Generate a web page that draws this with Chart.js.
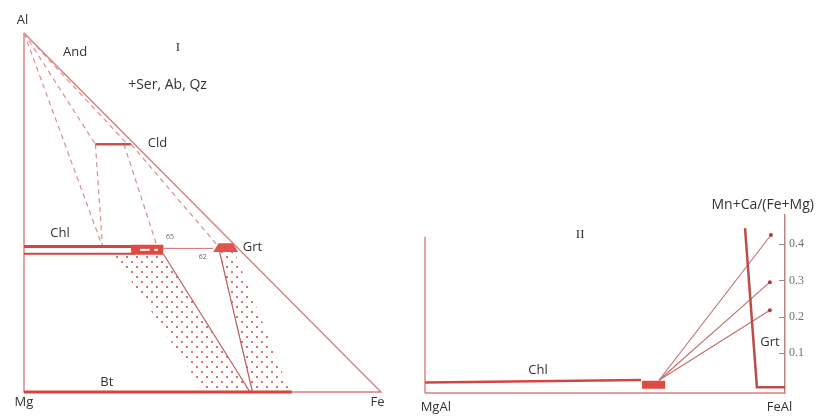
<!DOCTYPE html>
<html><head><meta charset="utf-8">
<script src="https://cdn.jsdelivr.net/npm/chart.js@4"></script>
<style>
html,body{margin:0;padding:0;background:#fff;width:824px;height:417px;overflow:hidden}
#l{position:absolute;left:0;top:0;width:410px;height:417px}
#r{position:absolute;left:410px;top:0;width:414px;height:417px}
</style></head><body>
<div id="l"><canvas id="cl"></canvas></div>
<div id="r"><canvas id="cr"></canvas></div>
<script>
// ===== Panel I : projection, x = Fe fraction, y = Al fraction =====
const triangleOutline = [[0,1],[0,0],[1,0],[0,1]];
const btBar        = [[0,0],[0.75,0]];
const cldBar       = [[0.20,0.69],[0.30,0.69]];
const chlTop       = [[0,0.405],[0.39,0.405]];
const chlBottom    = [[0,0.385],[0.31,0.385]];
const chlBlob      = [[0.30,0.382],[0.30,0.41],[0.39,0.41],[0.39,0.382]];
const chlBlobInner = [[[0.325,0.396],[0.352,0.396]],[[0.365,0.396],[0.375,0.396]]];
const grtBlob      = [[0.53,0.39],[0.545,0.414],[0.585,0.414],[0.60,0.39]];
const chlGrtTie    = [[0.39,0.40],[0.53,0.40]];
const dashedTies = [
  [[0,1],[0.22,0.405]],
  [[0,1],[0.20,0.69]],
  [[0.20,0.69],[0.22,0.405]],
  [[0,1],[0.29,0.69]],
  [[0.28,0.69],[0.373,0.405]],
  [[0.30,0.69],[0.545,0.405]]
];
const solidTies = [
  [[0.39,0.385],[0.633,0]],
  [[0.548,0.39],[0.64,0]]
];
const stippleBands = [
  [[0.25,0.385],[0.39,0.385],[0.633,0],[0.505,0]],
  [[0.548,0.39],[0.59,0.39],[0.745,0],[0.64,0]]
];
const leftLabels = [
  ['Al',-0.004,1.036],['And',0.143,0.947],['I',0.431,0.958],['+Ser, Ab, Qz',0.402,0.855],
  ['Cld',0.374,0.692],['Chl',0.101,0.443],['65',0.409,0.432],['62',0.501,0.376],
  ['Grt',0.64,0.404],['Bt',0.232,0.028],['Mg',0.0,-0.03],['Fe',0.99,-0.03]
];

// ===== Panel II : x = Fe/(Fe+Mg) from MgAl to FeAl, y = Mn+Ca/(Fe+Mg) =====
const frameLeft   = [[0,-0.01],[0,0.42]];
const frameBottom = [[0,-0.01],[1,-0.01]];
const chlLine2    = [[0,0.019],[0.60,0.026]];
const chlBlob2    = [[0.603,0.002],[0.603,0.024],[0.667,0.024],[0.667,0.002]];
const grtLine2    = [[0.889,0.444],[0.922,0.006],[1,0.006]];
const tieOrigin   = [0.65,0.025];
const grtX        = [0.961,0.958,0.958];
const grtRatio    = [0.425,0.295,0.218];
const tickValues  = [0.1,0.2,0.3,0.4];
const tickLabels  = ['0.1','0.2','0.3','0.4'];
const rightLabels = [
  ['Mn+Ca/(Fe+Mg)',0.938,0.508],['II',0.431,0.425],['Chl',0.314,0.053],
  ['Grt',0.958,0.130],['MgAl',0.03,-0.05],['FeAl',0.985,-0.048]
];

// ---------- helpers ----------
const pts = a => a.map(([x,y]) => ({x,y}));
function seg(a, color, width, dash){
  return {data: pts(a), showLine:true, borderColor:color, borderWidth:width, borderDash:dash||[],
          pointRadius:0, fill:false, tension:0, clip:false, borderCapStyle:'butt'};
}
function poly(a, fillColor, border, bw){
  return {data: pts(a.concat([a[0]])), showLine:true, borderColor:border||fillColor, borderWidth:bw||0,
          backgroundColor:fillColor, fill:'shape', pointRadius:0, tension:0, clip:false};
}
function ordered(list){ return list.map((d,i)=>Object.assign(d,{order:list.length-i})); }

function stipple(){
  const c = document.createElement('canvas'); c.width = 10; c.height = 10;
  const g = c.getContext('2d'); g.fillStyle = 'rgba(195,80,80,0.8)';
  g.fillRect(1,1,2,2); g.fillRect(6,6,2,2);
  return g.createPattern(c,'repeat');
}
const pattern = stipple();

const labelPlugin = labels => ({
  id:'labels',
  afterDatasetsDraw(chart){
    const {ctx, scales:{x,y}} = chart;
    ctx.save(); ctx.textAlign='center'; ctx.textBaseline='middle';
    for (const [t,vx,vy] of labels){
      const small = /^\d+$/.test(t);
      const serif = (t==='I'||t==='II');
      ctx.font = small ? '7px "Open Sans"' : serif ? '13px "Liberation Serif"' :
                 (t.length>4 ? '14px "Open Sans"' : '13px "Open Sans"');
      ctx.fillStyle = small ? '#666' : '#333';
      ctx.fillText(t, x.getPixelForValue(vx), y.getPixelForValue(vy));
    }
    ctx.restore();
  }
});

const edge = '#d97c7c', strong = '#d8433e', dashC = '#dc8e8e', tie = '#bd5d5d';
const baseOpts = {
  responsive:true, maintainAspectRatio:false, animation:false, events:[],
  plugins:{legend:{display:false}, tooltip:{enabled:false}}
};

// ---------- Left chart ----------
const leftSets = ordered([
  ...stippleBands.map(b => poly(b, pattern)),
  seg(triangleOutline, edge, 1.4),
  ...dashedTies.map(t => seg(t, dashC, 1.2, [5,4])),
  ...solidTies.map(t => seg(t, tie, 1.2)),
  seg(chlGrtTie, '#c97474', 1),
  seg(btBar, strong, 3),
  seg(cldBar, '#c9504c', 2.5),
  seg(chlTop, strong, 3),
  seg(chlBottom, strong, 2),
  poly(chlBlob, '#de4b45'),
  ...chlBlobInner.map(s => seg(s, '#ffffff', 2)),
  poly(grtBlob, '#e0524c')
]);
new Chart(document.getElementById('cl'), {
  type:'scatter',
  data:{datasets:leftSets},
  options:Object.assign({}, baseOpts, {
    layout:{padding:{left:24,right:29,top:33,bottom:25}},
    scales:{x:{type:'linear',min:0,max:1,display:false}, y:{type:'linear',min:0,max:1,display:false}}
  }),
  plugins:[labelPlugin(leftLabels)]
});

// ---------- Right chart ----------
const rightSets = ordered([
  seg(frameLeft, edge, 1.4),
  seg(frameBottom, edge, 1.4),
  seg(chlLine2, strong, 2.5),
  ...grtX.map((gx,i) => seg([tieOrigin,[gx,grtRatio[i]]], '#c46a6a', 1.1)),
  seg(grtLine2, '#b94e4b', 2.5),
  poly(chlBlob2, '#de4b45'),
  {data: grtX.map((gx,i)=>({x:gx,y:grtRatio[i]})), pointRadius:2, pointBackgroundColor:'#b23c3c',
   pointBorderWidth:0, showLine:false, clip:false}
]);
new Chart(document.getElementById('cr'), {
  type:'scatter',
  data:{datasets:rightSets},
  options:Object.assign({}, baseOpts, {
    layout:{padding:{left:15,right:0,top:215,bottom:24}},
    scales:{
      x:{type:'linear',min:0,max:1,display:false},
      y:{type:'linear',position:'right',min:-0.01,max:0.48,
         afterFit:s=>{s.width=39;},
         afterBuildTicks:s=>{s.ticks = tickValues.map(v=>({value:v}));},
         border:{display:true,color:'#bf8080',width:1.5},
         grid:{display:false, drawTicks:false},
         ticks:{padding:4,color:'#707070',font:{family:'"Liberation Serif"',size:12},
                callback:(v,i)=>tickLabels[i]}}
    }
  }),
  plugins:[labelPlugin(rightLabels), {
    id:'innerTicks',
    afterDraw(chart){
      const {ctx, chartArea, scales:{y}} = chart;
      ctx.save(); ctx.strokeStyle='#9a8a8a'; ctx.lineWidth=1;
      for (const v of tickValues){
        const py = Math.round(y.getPixelForValue(v))+0.5;
        ctx.beginPath(); ctx.moveTo(chartArea.right-6,py); ctx.lineTo(chartArea.right-1,py); ctx.stroke();
      }
      ctx.restore();
    }
  }]
});
</script>
</body></html>
